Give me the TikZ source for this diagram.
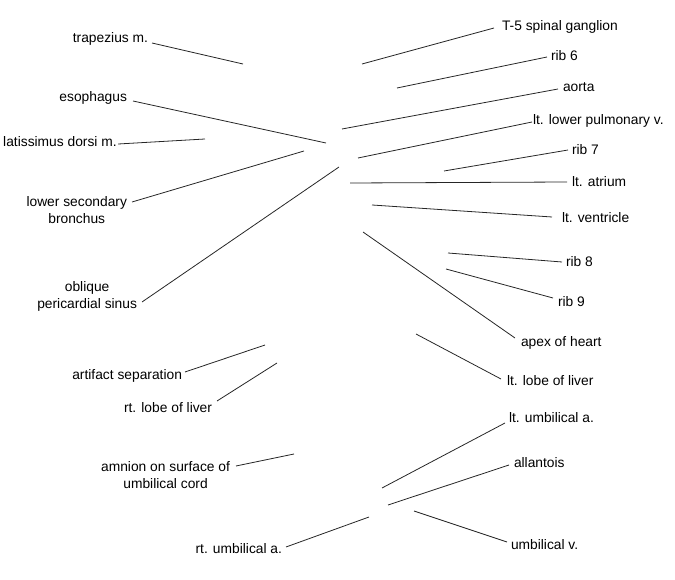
\documentclass[tikz,border=0pt]{standalone}
\usepackage{fontspec}
\setmainfont{Liberation Sans}
\begin{document}
\begin{tikzpicture}[x=1pt,y=-1pt,
  lab/.style={inner sep=0pt,outer sep=0pt,font=\fontsize{13.8}{17}\selectfont},
  one/.style={lab,text height=9.9pt,text depth=2.9pt},
  two/.style={lab,align=center},
  lead/.style={draw=black!85,line width=0.8pt}]
\useasboundingbox (0,0) rectangle (675,580);
% left labels
\node[one,anchor=east] (tra) at (148,39.5) {trapezius m.};
\node[one,anchor=east] (eso) at (127,98.5) {esophagus};
\node[one,anchor=east] (lat) at (116.7,143.5) {latissimus dorsi m.};
\node[two,anchor=east] (lsb) at (127,210) {lower secondary\\bronchus};
\node[two,anchor=east] (ops) at (137,296) {oblique\\pericardial sinus};
\node[one,anchor=east] (art) at (182,375.5) {artifact separation};
\node[one,anchor=east] (rll) at (212,408.5) {rt. lobe of liver};
\node[two,anchor=east] (amn) at (230,475.5) {amnion on surface of\\umbilical cord};
\node[one,anchor=east] (rua) at (282,549.5) {rt. umbilical a.};
% right labels
\node[one,anchor=west] (t5) at (502,27.5) {T-5 spinal ganglion};
\node[one,anchor=west] (rib6) at (551,57.5) {rib 6};
\node[one,anchor=west] (aor) at (563,88.5) {aorta};
\node[one,anchor=west] (lpv) at (533,121.5) {lt. lower pulmonary v.};
\node[one,anchor=west] (rib7) at (572,151.5) {rib 7};
\node[one,anchor=west] (atr) at (572,183.5) {lt. atrium};
\node[one,anchor=west] (ven) at (562,219.5) {lt. ventricle};
\node[one,anchor=west] (rib8) at (566,263.5) {rib 8};
\node[one,anchor=west] (rib9) at (558,302.5) {rib 9};
\node[one,anchor=west] (apx) at (521,342.5) {apex of heart};
\node[one,anchor=west] (llv) at (507,381.5) {lt. lobe of liver};
\node[one,anchor=west] (lua) at (509,418.5) {lt. umbilical a.};
\node[one,anchor=west] (all) at (514,463.5) {allantois};
\node[one,anchor=west] (umv) at (511,545.5) {umbilical v.};
% free ends
\coordinate (c1) at (243,64);
\coordinate (c2) at (326,143);
\coordinate (c3) at (205,139);
\coordinate (c4) at (304,151);
\coordinate (c5) at (339,167);
\coordinate (c6) at (265,345);
\coordinate (c7) at (277,363);
\coordinate (c8) at (294,454);
\coordinate (c9) at (369,517);
\coordinate (c10) at (362,64);
\coordinate (c11) at (397,88);
\coordinate (c12) at (342,129);
\coordinate (c13) at (358,158);
\coordinate (c14) at (444,171);
\coordinate (c15) at (350,183);
\coordinate (c16) at (372,205);
\coordinate (c17) at (448,253);
\coordinate (c18) at (446,269);
\coordinate (c19) at (363,232);
\coordinate (c20) at (416,334);
\coordinate (c21) at (382,488);
\coordinate (c22) at (388,505);
\coordinate (c23) at (414,511);
% leaders, left
\draw[lead] ([xshift=4pt,yshift=-3.5pt]tra.east) -- (c1);
\draw[lead] ([xshift=6pt,yshift=-2.5pt]eso.east) -- (c2);
\draw[lead] ([xshift=1.5pt,yshift=-0.5pt]lat.east) -- (c3);
\draw[lead] ([xshift=5pt,yshift=8pt]lsb.east) -- (c4);
\draw[lead] ([xshift=5pt,yshift=-6pt]ops.east) -- (c5);
\draw[lead] ([xshift=3pt,yshift=3.5pt]art.east) -- (c6);
\draw[lead] ([xshift=5pt,yshift=7.5pt]rll.east) -- (c7);
\draw[lead] ([xshift=6pt,yshift=9.5pt]amn.east) -- (c8);
\draw[lead] ([xshift=4pt,yshift=2.5pt]rua.east) -- (c9);
% leaders, right
\draw[lead] (c10) -- ([xshift=-8pt,yshift=-0.5pt]t5.west);
\draw[lead] (c11) -- ([xshift=-4pt,yshift=0.5pt]rib6.west);
\draw[lead] (c12) -- ([xshift=-5pt,yshift=-0.5pt]aor.west);
\draw[lead] (c13) -- ([xshift=-1pt,yshift=-0.5pt]lpv.west);
\draw[lead] (c14) -- ([xshift=-4pt,yshift=1.5pt]rib7.west);
\draw[lead] (c15) -- ([xshift=-5pt,yshift=1.5pt]atr.west);
\draw[lead] (c16) -- ([xshift=-10pt,yshift=2.5pt]ven.west);
\draw[lead] (c17) -- ([xshift=-4pt,yshift=1.5pt]rib8.west);
\draw[lead] (c18) -- ([xshift=-5pt,yshift=4.5pt]rib9.west);
\draw[lead] (c19) -- ([xshift=-6pt,yshift=4.5pt]apx.west);
\draw[lead] (c20) -- ([xshift=-6pt,yshift=2.5pt]llv.west);
\draw[lead] (c21) -- ([xshift=-4pt,yshift=-4.5pt]lua.west);
\draw[lead] (c22) -- ([xshift=-5pt,yshift=-1.5pt]all.west);
\draw[lead] (c23) -- ([xshift=-4pt,yshift=3.5pt]umv.west);
\end{tikzpicture}
\end{document}
